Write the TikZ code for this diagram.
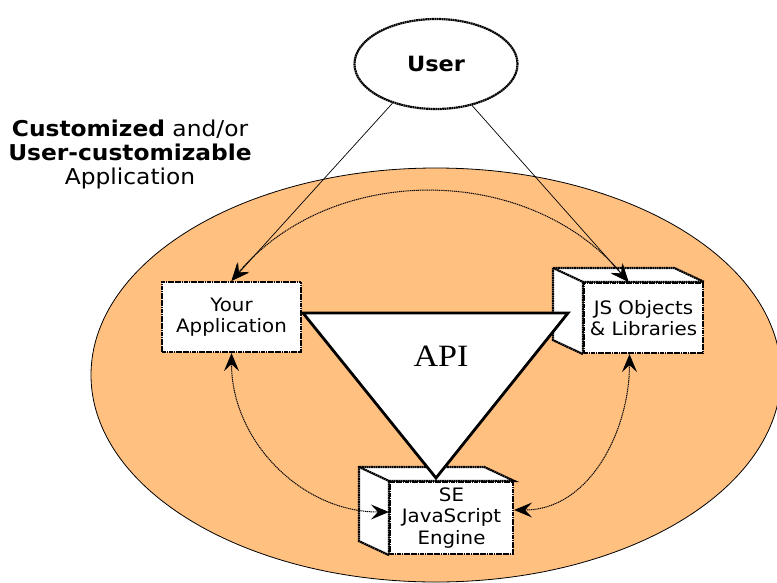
\documentclass[tikz,border=0pt]{standalone}
\usepackage{fontspec}
\newfontfamily\diagfont{DejaVu Sans}[FakeStretch=1.07]
\newfontfamily\apifont{Liberation Serif}[FakeStretch=1.1]
\usetikzlibrary{arrows.meta,shapes.geometric,backgrounds,calc}
\definecolor{ovalfill}{RGB}{255,192,128}
\tikzset{
  dotline/.style={dash pattern=on 1.8pt off 0.5pt, line width=2.2pt},
  compbox/.style={draw, dotline, fill=white, align=center, inner sep=0pt,
    font=\diagfont\fontsize{18.5}{21.5}\selectfont},
  flowline/.style={line width=0.7pt, -{Stealth[length=18pt,width=15pt,inset=7pt]}},
  linkcurve/.style={dash pattern=on 1.2pt off 0.7pt, line width=1pt,
    {Stealth[length=18pt,width=15pt,inset=7pt]}-{Stealth[length=18pt,width=15pt,inset=7pt]}},
}
\begin{document}
\begin{tikzpicture}[x=1pt,y=1pt]
        \useasboundingbox (0,0) rectangle (777,-582);
        % ユーザー
        \node[ellipse, draw, dotline, fill=white, minimum width=163pt, minimum height=90pt,
          font=\diagfont\bfseries\fontsize{21}{25}\selectfont] (user) at (436,-64) {User};
        % 見出し
        \node[font=\diagfont\fontsize{21.8}{24}\selectfont, align=center] (title) at (130,-154)
          {\textbf{Customized} and/or\\\textbf{User-customizable}\\Application};
        % 三つの部品
        \node[compbox, minimum width=139pt, minimum height=70pt] (app) at (231.5,-317) {Your\\Application};
        \node[compbox, minimum width=119pt, minimum height=70pt] (jsobj) at (643.5,-318) {JS Objects\\\& Libraries};
        \node[compbox, minimum width=123pt, minimum height=72pt] (engine) at (451.5,-518) {SE\\JavaScript\\Engine};
        \node[font=\apifont\fontsize{31}{36}\selectfont] (api) at (441,-356) {API};
        \begin{scope}[on background layer]
          % アプリケーション全体の楕円
          \draw[fill=ovalfill, line width=0.8pt] (436,-375) ellipse [x radius=345, y radius=207];
          % 箱の奥行き
          \foreach \b in {jsobj,engine} {
            \filldraw[dotline, fill=white] (\b.south west) -- ++(-30,14) -- ($(\b.north west)+(-30,14)$)
              -- ($(\b.north east)+(-30,14)$) -- (\b.north east) -- (\b.north west) -- cycle;
            \draw[dotline] ($(\b.north west)+(-30,14)$) -- (\b.north west);
          }
          % APIの三角形
          \filldraw[line width=2.8pt, fill=white] (303,-313) -- (568,-313) -- (436,-478) -- cycle;
        \end{scope}
        % 矢印
        \draw[flowline] (user.222) -- (app.north);
        \draw[flowline] (user.311) -- ([xshift=-15pt]jsobj.north);
        \draw[linkcurve] (app.north) to[out=50,in=130] ([xshift=-15pt]jsobj.north);
        \draw[linkcurve] (app.south) to[out=-90,in=180] ([yshift=6pt]engine.west);
        \draw[linkcurve] ([xshift=-14pt]jsobj.south) to[out=-90,in=0] ([yshift=8pt]engine.east);
      \end{tikzpicture}
\end{document}
